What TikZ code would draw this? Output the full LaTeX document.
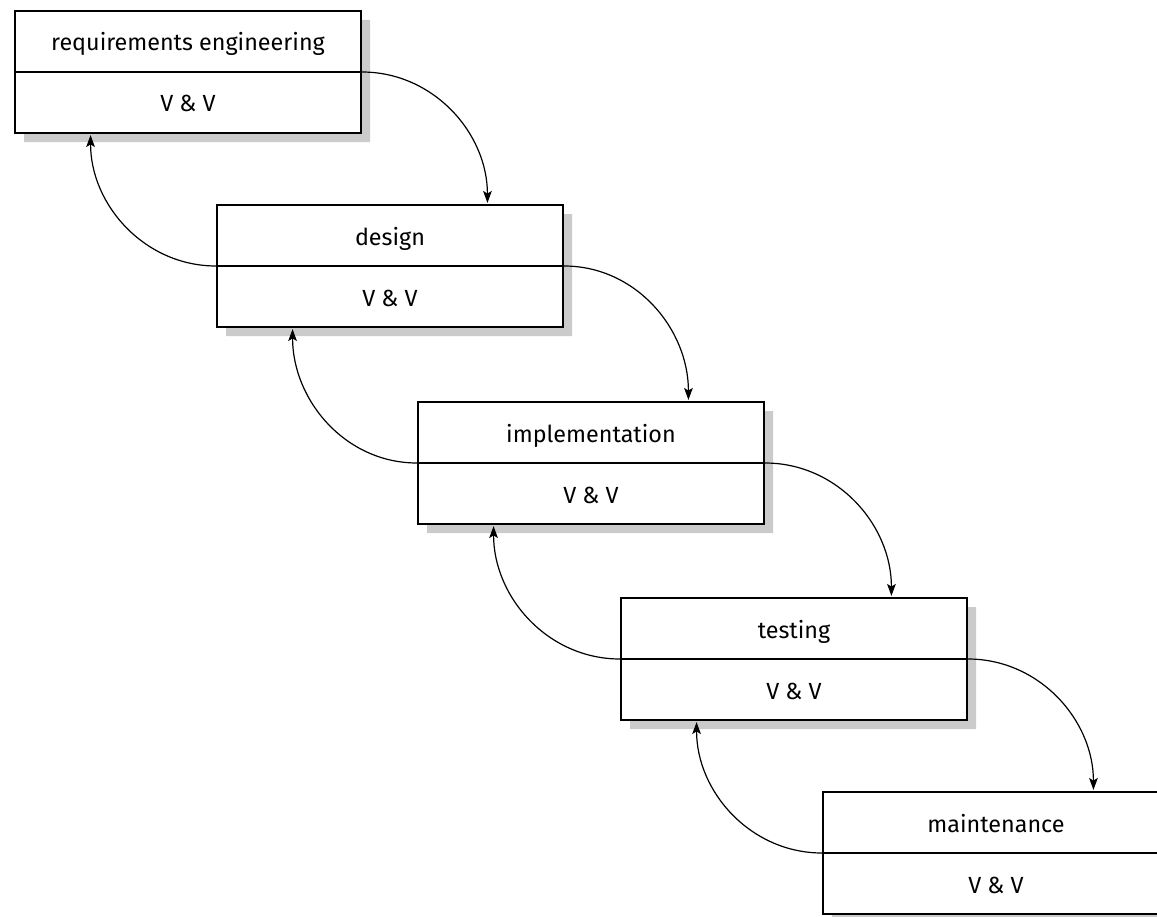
\documentclass[tikz,border=0pt]{standalone}
\usepackage{fontspec}
\setmainfont{Fira Sans}
\usetikzlibrary{arrows.meta,shadows,calc,shapes.multipart}
\definecolor{shadowgray}{HTML}{CBCBCB}
\newcommand{\partstrut}{\rule[-15pt]{0pt}{44.25pt}}
\begin{document}
\begin{tikzpicture}[x=0.75pt,y=-0.75pt,
  phase/.style={rectangle split, rectangle split parts=2, draw, line width=1.5pt, fill=white,
    minimum width=259.5pt, inner xsep=0pt, inner ysep=0pt,
    font=\fontsize{17.5}{20}\selectfont, anchor=north west,
    general shadow={fill=shadowgray, shadow xshift=6.75pt, shadow yshift=-6.75pt}},
  flow/.style={line width=0.9pt, -{Stealth[length=9pt,width=6.5pt,inset=2pt]}, shorten >=0.8pt}]
\clip (0,0) rectangle (1157,917);
\node[phase] (p1) at (14,10) {\partstrut requirements engineering\nodepart{two}\partstrut V \& V};
\node[phase] (p2) at (216,204) {\partstrut design\nodepart{two}\partstrut V \& V};
\node[phase] (p3) at (417,401) {\partstrut implementation\nodepart{two}\partstrut V \& V};
\node[phase] (p4) at (620,597) {\partstrut testing\nodepart{two}\partstrut V \& V};
\node[phase] (p5) at (822,791) {\partstrut maintenance\nodepart{two}\partstrut V \& V};
% forward arrows
\draw[flow] (p1.text split east) to[out=0,in=90] ($(p2.north west)!0.78!(p2.north east)$);
\draw[flow] (p2.text split east) to[out=0,in=90] ($(p3.north west)!0.78!(p3.north east)$);
\draw[flow] (p3.text split east) to[out=0,in=90] ($(p4.north west)!0.78!(p4.north east)$);
\draw[flow] (p4.text split east) to[out=0,in=90] ($(p5.north west)!0.78!(p5.north east)$);
% backward arrows
\draw[flow] (p2.text split west) to[out=180,in=-90] ($(p1.south west)!0.22!(p1.south east)$);
\draw[flow] (p3.text split west) to[out=180,in=-90] ($(p2.south west)!0.22!(p2.south east)$);
\draw[flow] (p4.text split west) to[out=180,in=-90] ($(p3.south west)!0.22!(p3.south east)$);
\draw[flow] (p5.text split west) to[out=180,in=-90] ($(p4.south west)!0.22!(p4.south east)$);
\end{tikzpicture}
\end{document}
